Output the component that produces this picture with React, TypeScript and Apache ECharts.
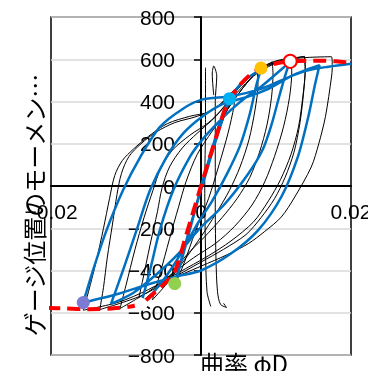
import React, { useEffect, useRef } from "react";
import * as echarts from "echarts";

type P = [number, number];

// Tick labels
const xTicks = [-0.02, 0, 0.02];
const yTicks = [-800, -600, -400, -200, 0, 200, 400, 600, 800];

// Experimental (black) loops
const blackLoopF: P[] = [
  [0, 0], [0.0015, 170], [0.003, 320], [0.0045, 450],
  [0.0044, 380], [0.0036, 250], [0.0024, 100], [0.001, -60], [-0.0008, -220], [-0.0022, -360], [-0.0035, -470],
  [-0.0025, -330], [-0.001, -130], [0.0005, 60], [0.002, 220], [0.0035, 360], [0.0055, 460], [0.0075, 545],
];
const blackLoopE: P[] = [
  [0.0075, 545], [0.0076, 480], [0.0072, 360], [0.0064, 220], [0.0052, 90], [0.0038, -20], [0.002, -130],
  [0, -240], [-0.002, -340], [-0.0045, -460], [-0.0065, -540],
  [-0.0055, -420], [-0.0042, -250], [-0.003, -100], [-0.002, 20], [-0.0005, 150], [0.0015, 260],
  [0.0035, 360], [0.0055, 460], [0.0075, 540], [0.0095, 588],
];
const blackLoopD: P[] = [
  [0.0095, 588], [0.0096, 530], [0.0094, 420], [0.0088, 290], [0.0078, 160], [0.0065, 40], [0.0048, -60],
  [0.0028, -150], [0.0005, -240], [-0.002, -330], [-0.0045, -440], [-0.0085, -565],
  [-0.0078, -450], [-0.0068, -280], [-0.0058, -120], [-0.0052, -10], [-0.0042, 90], [-0.0025, 180],
  [-0.0005, 250], [0.002, 330], [0.004, 420], [0.006, 500], [0.008, 560], [0.0100, 592], [0.012, 606],
];
const blackLoopC: P[] = [
  [0.012, 606], [0.0121, 540], [0.0118, 420], [0.011, 280], [0.0098, 140], [0.0085, 20], [0.0068, -90],
  [0.0045, -190], [0.002, -270], [-0.001, -340], [-0.004, -420], [-0.007, -500], [-0.0108, -580],
  [-0.0100, -470], [-0.0088, -300], [-0.0076, -150], [-0.0064, -20], [-0.0054, 80], [-0.0038, 170],
  [-0.0015, 240], [0.001, 300], [0.003, 370], [0.005, 450], [0.007, 520], [0.009, 565], [0.011, 595], [0.0138, 614],
];
const blackLoopB: P[] = [
  [0.0138, 614], [0.0139, 560], [0.0137, 450], [0.0132, 300], [0.0124, 160], [0.0112, 40], [0.0098, -60],
  [0.008, -150], [0.006, -230], [0.003, -300], [0, -360], [-0.004, -440], [-0.008, -520], [-0.0135, -585],
  [-0.013, -480], [-0.0125, -340], [-0.0118, -180], [-0.0112, -40], [-0.0106, 60], [-0.0096, 140],
  [-0.008, 200], [-0.006, 255], [-0.0035, 300], [-0.0005, 330], [0.002, 370], [0.004, 440], [0.006, 505],
  [0.008, 555], [0.010, 588], [0.012, 604], [0.0138, 612],
];
const blackLoopA: P[] = [
  [0.0138, 612], [0.0139, 550], [0.0136, 430], [0.013, 280], [0.012, 150], [0.0106, 30], [0.009, -70],
  [0.007, -170], [0.004, -260], [0.001, -330], [-0.003, -410], [-0.007, -490], [-0.011, -550], [-0.0157, -588],
  [-0.015, -500], [-0.014, -360], [-0.013, -200], [-0.0122, -60], [-0.0115, 50], [-0.0105, 120],
  [-0.009, 175], [-0.007, 235], [-0.0045, 295], [-0.0015, 330], [0.001, 350], [0.003, 400], [0.005, 470],
  [0.007, 530], [0.009, 570], [0.011, 595], [0.014, 608], [0.0174, 612],
  [0.0175, 560], [0.0174, 516], [0.0166, 330], [0.0157, 200], [0.0147, 90], [0.0125, -52], [0.0107, -147],
  [0.0085, -215], [0.0063, -273], [0.0035, -325], [0.0018, -352], [-0.002, -410], [-0.006, -470],
];
const blackSpike1: P[] = [
  [0.0017, 430], [0.0015, 530], [0.0017, 568], [0.0021, 520], [0.0019, 400], [0.0019, 200], [0.0019, -100],
  [0.002, -350], [0.0022, -500], [0.0026, -560], [0.0034, -575], [0.003, -555],
];
const blackSpike2: P[] = [
  [0.0006, 560], [0.0006, 300], [0.0005, 0], [0.0006, -300], [0.0008, -500], [0.0013, -570],
];

// Analytical (blue) curve
const blueCurve: P[] = [
  [0, 0], [0.002, 225], [0.0038, 413],
  [0.003, 330], [0.0015, 160], [0, -20], [-0.0015, -200], [-0.0028, -370], [-0.0035, -462],
  [-0.0025, -340], [-0.0012, -170], [0.0003, 30], [0.0018, 215], [0.0032, 370], [0.0045, 450], [0.006, 505], [0.008, 552],
  [0.0074, 480], [0.0065, 340], [0.0052, 190], [0.0035, 60], [0.0015, -70], [-0.0005, -180], [-0.0025, -310],
  [-0.0045, -420], [-0.0065, -510], [-0.008, -560],
  [-0.0068, -399], [-0.0055, -210], [-0.0037, -20], [-0.0015, 137], [0.0001, 216], [0.002, 290], [0.004, 360],
  [0.006, 420], [0.008, 470], [0.010, 530], [0.0118, 585],
  [0.0112, 520], [0.0104, 420], [0.0094, 290], [0.0082, 170], [0.0063, 58], [0.0032, -84], [-0.0004, -210],
  [-0.003, -320], [-0.006, -420], [-0.009, -505], [-0.012, -558],
  [-0.0104, -399], [-0.0086, -210], [-0.0068, -20], [-0.0046, 137], [-0.0024, 248], [0.0001, 327], [0.003, 390],
  [0.006, 420], [0.009, 460], [0.012, 520], [0.014, 550], [0.0158, 572],
  [0.0152, 480], [0.0143, 327], [0.0129, 137], [0.0107, -52], [0.0076, -210], [0.004, -320], [0, -400],
  [-0.0035, -430], [-0.007, -465], [-0.011, -510], [-0.0157, -552],
  [-0.0144, -399], [-0.0126, -210], [-0.0104, -20], [-0.0081, 137], [-0.0055, 279], [-0.0024, 366],
  [0.0001, 409], [0.004, 425], [0.008, 460], [0.011, 505], [0.014, 545], [0.017, 565], [0.02, 579],
];

// Skeleton (red dashed)
const skeleton: P[] = [
  [-0.0205, -577], [-0.018, -580], [-0.015, -583], [-0.012, -580], [-0.009, -568], [-0.0075, -545],
  [-0.0062, -505], [-0.0048, -460], [-0.0035, -405], [-0.002, -235], [0, 0], [0.002, 230], [0.0035, 390],
  [0.005, 470], [0.0065, 525], [0.008, 558], [0.010, 580], [0.012, 590], [0.014, 593], [0.016, 593],
  [0.018, 590], [0.0205, 580],
];

// Characteristic points
const markerPoints: P[] = [
  [0.0038, 413], [0.008, 558], [0.0119, 590], [-0.0035, -462], [-0.0157, -552], [-0.0080, -560],
];
const markerFills = ["#00B0F0", "#FFC000", "#FFFFFF", "#92D050", "#7B7BD4", "#FFFFFF"];
const markerBorders = ["#00B0F0", "#FFC000", "#FF0000", "#92D050", "#7B7BD4", "#FFFFFF"];

const minusFmt = (v: number) => String(v).replace("-", "\u2212");

export default function App() {
  const ref = useRef<HTMLDivElement>(null);
  useEffect(() => {
    if (!ref.current) return;
    const chart = echarts.init(ref.current, undefined, { renderer: "svg" });
    const blacks = [blackLoopF, blackLoopE, blackLoopD, blackLoopC, blackLoopB, blackLoopA, blackSpike1, blackSpike2];
    const series: any[] = [];
    blacks.forEach((d) =>
      series.push({
        type: "line", data: d, showSymbol: false, smooth: 0.3, silent: true, z: 2,
        lineStyle: { color: "#000000", width: 1 },
      })
    );
    series.push({
      type: "line", data: blueCurve, showSymbol: false, smooth: 0.3, silent: true, z: 3,
      lineStyle: { color: "#0070C0", width: 2.5 },
    });
    series.push({
      type: "line", data: skeleton, showSymbol: false, smooth: 0.3, silent: true, z: 4,
      lineStyle: { color: "#FF0000", width: 4, type: [13, 7] },
    });
    markerPoints.forEach((p, i) =>
      series.push({
        type: "scatter", data: [p], symbol: "circle", symbolSize: 13, z: 5, silent: true,
        itemStyle: { color: markerFills[i], borderColor: markerBorders[i], borderWidth: markerBorders[i] === "#FF0000" ? 2 : 0, opacity: 1 },
      })
    );
    chart.setOption({
      animation: false,
      grid: {
        left: 51, top: 17, width: 300, height: 338, show: true, borderColor: "#000", borderWidth: 1.5,
        containLabel: false, outerBoundsMode: "none",
      },
      xAxis: {
        type: "value", min: xTicks[0], max: xTicks[xTicks.length - 1], interval: 0.02,
        position: "bottom", offset: -169,
        axisLine: { onZero: false, lineStyle: { color: "#000", width: 2 } },
        axisTick: { show: false }, splitLine: { show: false },
        axisLabel: { fontSize: 21, fontFamily: "Liberation Sans", color: "#000", margin: 15, formatter: minusFmt },
      },
      yAxis: {
        type: "value", min: yTicks[0], max: yTicks[yTicks.length - 1], interval: 200,
        position: "left", offset: -150,
        axisLine: { onZero: false, lineStyle: { color: "#000", width: 2 } },
        axisTick: { show: true, length: 7, lineStyle: { color: "#000", width: 1.5 } },
        splitLine: { show: true, lineStyle: { color: "#D9D9D9", width: 1.5 } },
        axisLabel: { fontSize: 21, fontFamily: "Liberation Sans", color: "#000", margin: 26, formatter: minusFmt },
      },
      graphic: [
        {
          type: "text", x: 200, y: 350, z: 10,
          style: { text: "曲率 φD", font: '24px "Noto Sans CJK JP"', fill: "#000", align: "left", verticalAlign: "top" },
        },
        {
          type: "text", x: 33, y: 205, rotation: Math.PI / 2, z: 10,
          style: { text: "ゲージ位置のモーメン…", font: '24px "Noto Sans CJK JP"', fill: "#000", align: "center", verticalAlign: "middle" },
        },
      ],
      series,
    });
    return () => chart.dispose();
  }, []);
  return <div ref={ref} style={{ position: "fixed", left: 0, top: 0, width: 368, height: 371 }} />;
}
